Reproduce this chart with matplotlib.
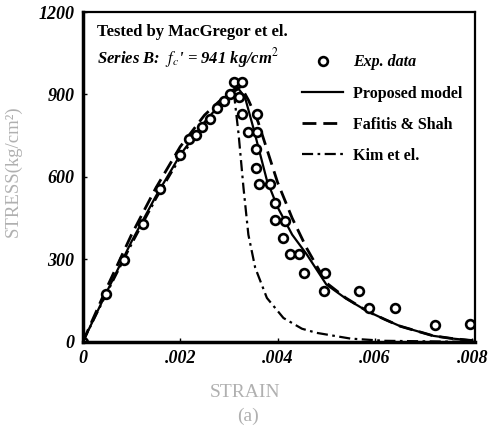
import numpy as np
import matplotlib
matplotlib.use('Agg')
import matplotlib.pyplot as plt

# experimental points (strain, stress kg/cm^2)
exp_strain = [0.0, 0.00048, 0.00085, 0.00123, 0.00159, 0.0020, 0.00219, 0.00233, 0.00245,
              0.00262, 0.00275, 0.00289, 0.00303, 0.0031, 0.00327, 0.0032, 0.00327, 0.0034,
              0.00358, 0.00358, 0.00356, 0.00356, 0.00361, 0.00385, 0.00395, 0.00394,
              0.00416, 0.00411, 0.00426, 0.00443, 0.00455, 0.00498, 0.00495, 0.00568,
              0.00587, 0.00641, 0.00723, 0.00795]
exp_stress = [0, 175, 299, 428, 558, 679, 739, 752, 782,
              812, 852, 876, 900, 945, 945, 890, 830, 762,
              830, 762, 700, 633, 576, 576, 506, 445,
              439, 378, 318, 318, 251, 251, 187, 187,
              124, 124, 61, 65]

# proposed model (solid)
prop_strain = [0.0, 0.0005, 0.001, 0.0015, 0.002, 0.0025, 0.0028, 0.003, 0.0031, 0.0032,
               0.00333, 0.0035, 0.00378, 0.004, 0.0043, 0.0046, 0.005, 0.0054, 0.00584,
               0.0062, 0.00652, 0.0072, 0.0076, 0.008]
prop_stress = [0, 185, 365, 530, 680, 800, 860, 895, 910, 920,
               890, 780, 588, 490, 390, 318, 209, 158, 112,
               82, 57, 22, 12, 5]

# Fafitis & Shah (dashed)
fs_strain = [0.0, 0.0005, 0.001, 0.0015, 0.002, 0.0025, 0.0028, 0.003, 0.0031, 0.00325,
             0.0034, 0.0036, 0.0038, 0.004, 0.0043, 0.0046, 0.005, 0.0054, 0.00584,
             0.0062, 0.00652, 0.0072, 0.0076, 0.008]
fs_stress = [0, 200, 390, 560, 710, 825, 875, 905, 918, 928,
             880, 800, 690, 580, 450, 340, 215, 160, 112,
             82, 57, 22, 12, 5]

# Kim et al. (dash-dot)
kim_strain = [0.0, 0.0005, 0.001, 0.0015, 0.002, 0.0025, 0.0028, 0.003, 0.0031,
              0.0032, 0.0033, 0.0034, 0.00354, 0.00378, 0.00412, 0.0045, 0.0048,
              0.0055, 0.0062, 0.008]
kim_stress = [0, 180, 355, 520, 670, 795, 855, 900, 910,
              754, 560, 390, 270, 160, 87, 48, 33,
              12, 4, 0]

xticks = [0, 0.002, 0.004, 0.006, 0.008]
xtick_labels = ['0', '.002', '.004', '.006', '.008']
yticks = [0, 300, 600, 900, 1200]
ytick_labels = ['0', '300', '600', '900', '1200']

plt.rcParams['font.family'] = ['Liberation Serif', 'DejaVu Serif']
plt.rcParams['mathtext.fontset'] = 'stix'

fig = plt.figure(figsize=(4.9, 4.29), dpi=100)
ax = fig.add_axes([0.169, 0.203, 0.800, 0.769])

ax.plot(prop_strain, prop_stress, '-', color='black', lw=1.6, label='Proposed model')
ax.plot(fs_strain, fs_stress, '--', color='black', lw=2.0, dashes=(5, 2.5), label='Fafitis & Shah')
ax.plot(kim_strain, kim_stress, '-.', color='black', lw=1.6, dashes=(5, 2, 1.2, 2), label='Kim et el.')
ax.plot(exp_strain, exp_stress, 'o', mfc='white', mec='black', mew=1.9, ms=6.3, label='Exp. data')

ax.set_xlim(0, 0.00805)
ax.set_ylim(0, 1200)
ax.set_xticks(xticks)
ax.set_xticklabels(xtick_labels, fontsize=13, fontweight='bold', fontstyle='italic')
ax.set_yticks(yticks)
ax.set_yticklabels(ytick_labels, fontsize=13, fontweight='bold', fontstyle='italic')
ax.tick_params(direction='in', length=3, width=1, pad=6)
for side in ['left', 'bottom']:
    ax.spines[side].set_linewidth(2.5)
for side in ['top', 'right']:
    ax.spines[side].set_linewidth(1.6)

ax.text(0.035, 0.965, 'Tested by MacGregor et el.', transform=ax.transAxes,
        fontsize=12, fontweight='bold', va='top')
ax.text(0.035, 0.898, r"Series B:  $f_c$' = 941 kg/cm$^{2}$", transform=ax.transAxes,
        fontsize=12, fontweight='bold', fontstyle='italic', va='top')

handles, labels = ax.get_legend_handles_labels()
order = [3, 0, 1, 2]
leg = ax.legend([handles[i] for i in order], [labels[i] for i in order],
                loc='upper right', bbox_to_anchor=(1.005, 0.915), frameon=False,
                fontsize=11.5, labelspacing=0.95, handlelength=2.6, handletextpad=0.6)
for i, t in enumerate(leg.get_texts()):
    t.set_fontweight('bold')
    if i == 0:
        t.set_fontstyle('italic')

fig.text(0.027, 0.60, 'STRESS(kg/cm²)', rotation=90, ha='center', va='center',
         fontsize=13.5, color='#b0b0b0')
fig.text(0.5, 0.086, 'STRAIN', ha='center', va='center', fontsize=14, color='#b0b0b0')
fig.text(0.506, 0.03, '(a)', ha='center', va='center', fontsize=14, color='#b0b0b0')

fig.savefig('out.png', dpi=100)
